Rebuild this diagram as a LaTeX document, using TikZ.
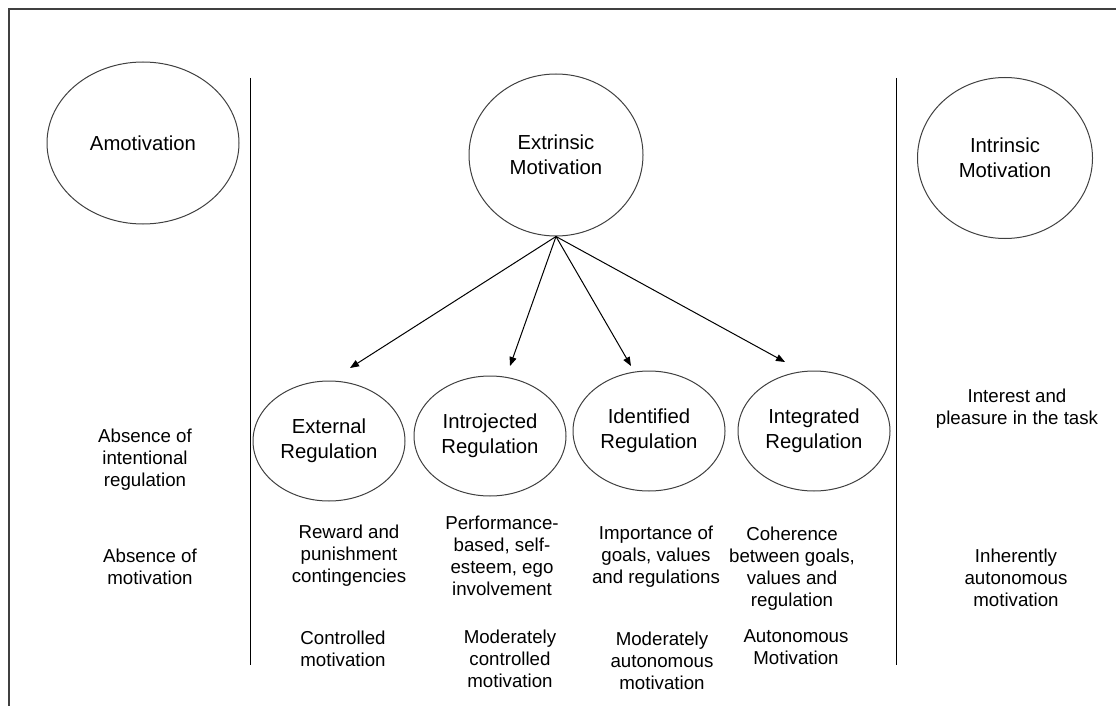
\documentclass[tikz,border=0pt]{standalone}
\usepackage{fontspec}
\setmainfont{Liberation Sans}
\usetikzlibrary{shapes.geometric,arrows.meta}
\begin{document}
\begin{tikzpicture}[x=1pt, y=-1pt, line width=1pt, font=\fontsize{18.7}{22}\selectfont,
    big/.style = {draw=black!75, ellipse, inner sep=0pt, align=center, font=\fontsize{20.3}{25}\selectfont},
    reg/.style = {big, minimum width=152pt, minimum height=120pt},
    txt/.style = {align=center, inner sep=0pt},
    arr/.style = {-{Triangle[length=9pt,width=7pt]}}]
    \useasboundingbox (0,0) rectangle (1116,706);
    \draw[line width=1.5pt, black!75] (1116,9) -- (9,9) -- (9,706);
    % dividers
    \draw (250,78) -- (250,665);
    \draw (896,78) -- (896,665);
    % top row
    \node[big, minimum width=192pt, minimum height=162pt] (amo) at (143,143) {Amotivation};
    \node[big, minimum width=174pt, minimum height=162pt] (ext) at (556,155) {Extrinsic\\Motivation};
    \node[big, minimum width=175pt, minimum height=161pt] (int) at (1005,158) {Intrinsic\\Motivation};
    % regulations
    \node[reg] (r1) at (329,441) {External\\Regulation};
    \node[reg] (r2) at (490,436) {Introjected\\Regulation};
    \node[reg] (r3) at (649,431) {Identified\\Regulation};
    \node[reg] (r4) at (814,431) {Integrated\\Regulation};
    \coordinate (t1) at (350,368);
    \coordinate (t2) at (510,366);
    \coordinate (t3) at (631,366);
    \coordinate (t4) at (785,362);
    \draw[arr] (ext.south) -- (t1);
    \draw[arr] (ext.south) -- (t2);
    \draw[arr] (ext.south) -- (t3);
    \draw[arr] (ext.south) -- (t4);
    % descriptions
    \node[txt] (a1) at (145,460) {Absence of\\intentional\\regulation};
    \node[txt] (a2) at (150,567) {Absence of\\motivation};
    \node[txt] (i1) at (1017,409) {Interest and\\pleasure in the task};
    \node[txt] (i2) at (1016,578) {Inherently\\autonomous\\motivation};
    \node[txt] (d1) at (349,556) {Reward and\\punishment\\contingencies};
    \node[txt] (d2) at (502,556) {Performance-\\based, self-\\esteem, ego\\involvement};
    \node[txt] (d3) at (656,557) {Importance of\\goals, values\\and regulations};
    \node[txt] (d4) at (792,569) {Coherence\\between goals,\\values and\\regulation};
    \node[txt] (m1) at (343,649) {Controlled\\motivation};
    \node[txt] (m2) at (510,659) {Moderately\\controlled\\motivation};
    \node[txt] (m3) at (662,661) {Moderately\\autonomous\\motivation};
    \node[txt] (m4) at (796,647) {Autonomous\\Motivation};
\end{tikzpicture}
\end{document}
